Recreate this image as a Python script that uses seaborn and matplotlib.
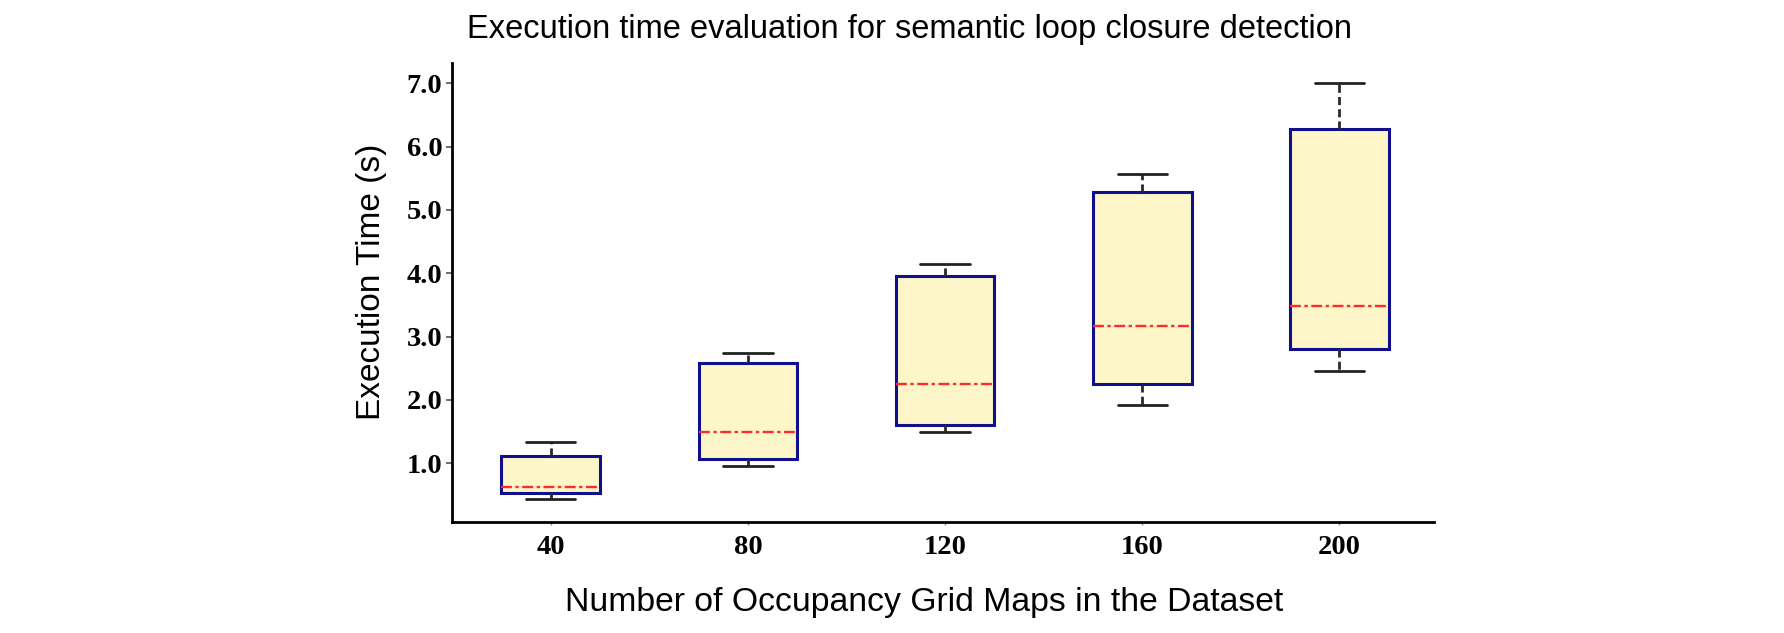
import matplotlib
matplotlib.use("Agg")
import matplotlib.pyplot as plt
import seaborn as sns
import pandas as pd

# ---- data (five-number summaries) ----
maps = ["40", "80", "120", "160", "200"]
whisker_low = [0.43, 0.95, 1.49, 1.92, 2.46]
q1 = [0.53, 1.07, 1.61, 2.25, 2.81]
median = [0.63, 1.50, 2.26, 3.17, 3.49]
q3 = [1.12, 2.59, 3.95, 5.29, 6.28]
whisker_high = [1.34, 2.74, 4.15, 5.56, 7.01]
yticks = [1.0, 2.0, 3.0, 4.0, 5.0, 6.0, 7.0]

rows = []
for i, m in enumerate(maps):
    for v in (whisker_low[i], q1[i], median[i], q3[i], whisker_high[i]):
        rows.append({"maps": m, "time": v})
df = pd.DataFrame(rows)

sns.set_theme(style="white")
plt.rcParams["font.family"] = ["Liberation Sans", "DejaVu Sans"]

fig = plt.figure(figsize=(17.84, 6.33), dpi=100)
ax = fig.add_axes([0.2534, 0.176, 0.5505, 0.7245])

sns.boxplot(
    data=df, x="maps", y="time", order=maps, ax=ax,
    width=0.5, whis=10, showfliers=False,
    color="#FCF6C8",
    boxprops=dict(facecolor="#FCF6C8", edgecolor="#10108C", linewidth=2.2),
    medianprops=dict(color="#FF2A2A", linewidth=1.7, linestyle=(0, (4.6, 1.5, 1.4, 1.5))),
    whiskerprops=dict(color="#2A2A2A", linewidth=2.0, linestyle=(0, (2.9, 1.5))),
    capprops=dict(color="#222222", linewidth=2.0),
)

ax.set_xlim(-0.5, 4.48)
ax.set_ylim(0.08, 7.32)
ax.set_yticks(yticks)
ax.set_yticklabels([f"{t:.1f}" for t in yticks])

for s in ["top", "right"]:
    ax.spines[s].set_visible(False)
for s in ["left", "bottom"]:
    ax.spines[s].set_color("black")
    ax.spines[s].set_linewidth(2.0)

ax.tick_params(axis="y", which="major", left=True, length=4, width=1.2, color="#555555", pad=3)
ax.tick_params(axis="x", which="major", bottom=True, length=2.5, width=1.0, color="#888888", pad=7)
for lab in ax.get_xticklabels() + ax.get_yticklabels():
    lab.set_fontfamily(["Liberation Serif", "DejaVu Serif"])
    lab.set_fontweight("bold")
    lab.set_fontsize(20.5)
    lab.set_color("black")

ax.set_xlabel("Number of Occupancy Grid Maps in the Dataset", fontsize=24.3, color="black", va="center")
ax.xaxis.set_label_coords(0.481, -0.176)
ax.set_ylabel("Execution Time (s)", fontsize=24, color="black", va="center")
ax.yaxis.set_label_coords(-0.082, 0.523)
fig.text(0.5096, 0.953, "Execution time evaluation for semantic loop closure detection",
         ha="center", va="center", fontsize=23.5, color="black")

fig.savefig("out.png", dpi=100)
